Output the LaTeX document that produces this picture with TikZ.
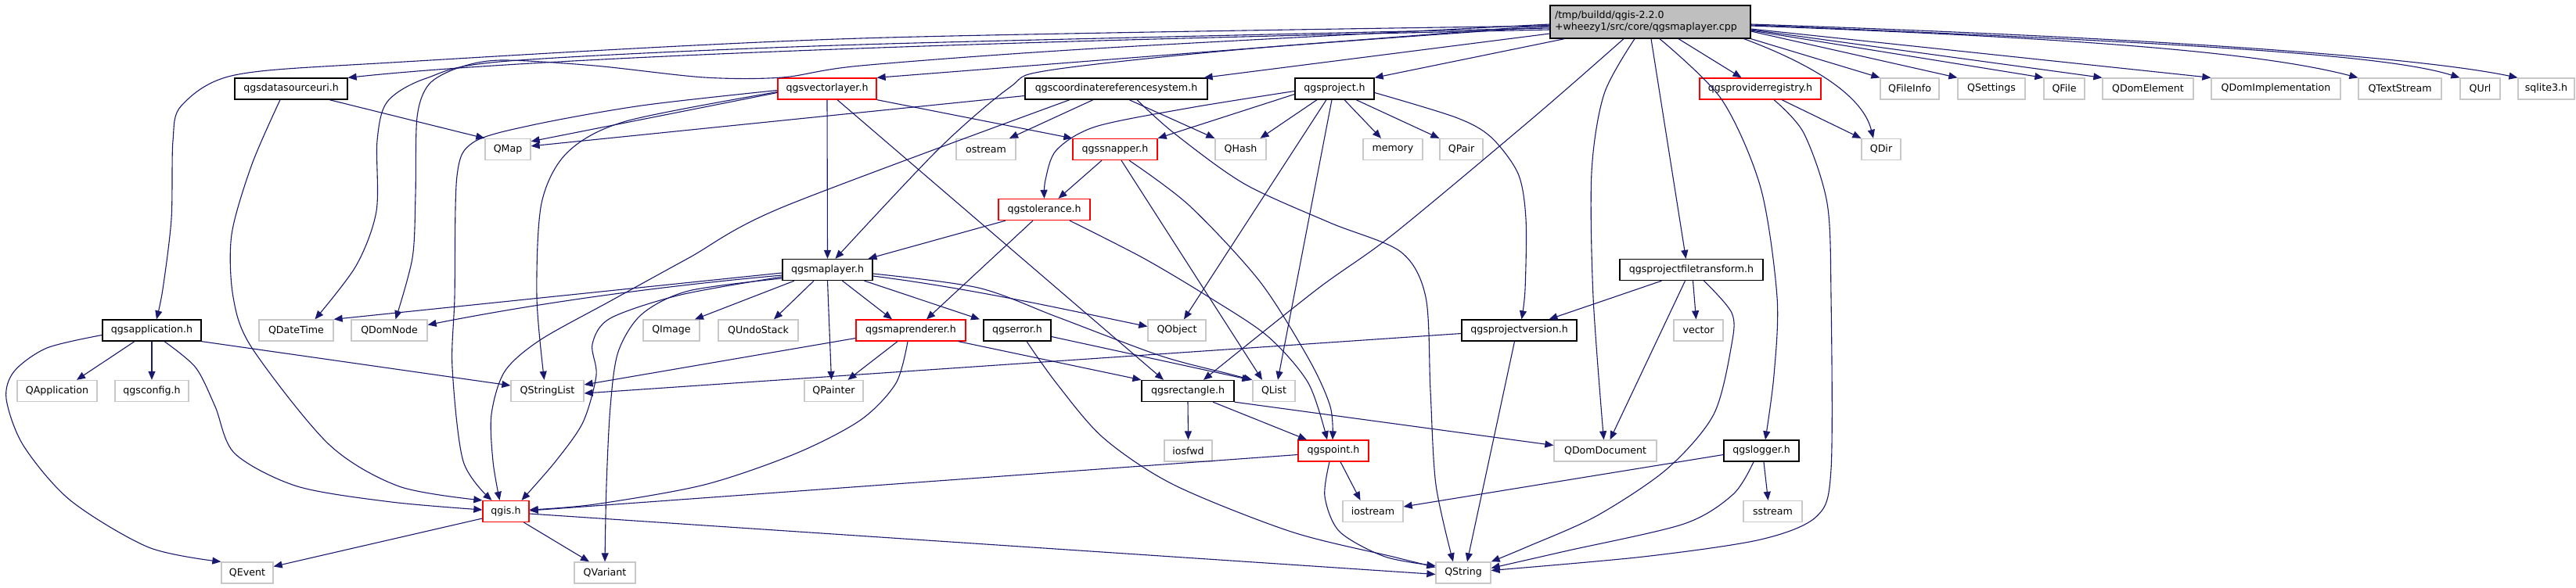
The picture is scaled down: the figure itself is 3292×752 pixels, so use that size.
\documentclass[tikz,border=0pt]{standalone}
\usepackage{fontspec}
\setmainfont{DejaVu Sans}
\usetikzlibrary{arrows.meta}
\definecolor{edgec}{HTML}{191970}
\definecolor{extgray}{HTML}{C8C8C8}
\definecolor{maingray}{HTML}{BFBFBF}
\definecolor{truncred}{HTML}{FF0000}
\newcommand\nodefont{\fontsize{12.6}{15}\selectfont}
\tikzset{
  nb/.style={draw, rectangle, minimum height=27, inner sep=0, font=\nodefont, fill=white, line width=1.3},
  doc/.style={nb, draw=black},
  trunc/.style={nb, draw=truncred},
  ext/.style={nb, draw=extgray},
  dep/.style={draw=edgec, line width=1.1, -{Triangle[length=11,width=9]}},
  sm/.style={smooth, tension=0.5}
}
\begin{document}
\begin{tikzpicture}[x=1pt, y=-1pt]
\fill[white] (0,0) rectangle (3292,752);
\useasboundingbox (0,0) rectangle (3292,752);
% ---------- nodes ----------
\node[doc, fill=maingray, minimum width=256, minimum height=42, align=left, text width=244] (m) at (2109,28) {/tmp/buildd/qgis-2.2.0\\+wheezy1/src/core/qgsmaplayer.cpp};
\node[doc, minimum width=144] (dsu) at (372,113.5) {qgsdatasourceuri.h};
\node[trunc, minimum width=126] (vl) at (1057,113.5) {qgsvectorlayer.h};
\node[doc, minimum width=233] (crs) at (1426.5,113.5) {qgscoordinatereferencesystem.h};
\node[doc, minimum width=101] (proj) at (1705.5,113.5) {qgsproject.h};
\node[trunc, minimum width=155] (preg) at (2249.5,113.5) {qgsproviderregistry.h};
\node[ext, minimum width=75] (qfi) at (2440.5,113.5) {QFileInfo};
\node[ext, minimum width=86] (qset) at (2545,113.5) {QSettings};
\node[ext, minimum width=52] (qfile) at (2638,113.5) {QFile};
\node[ext, minimum width=116] (qde) at (2745,113.5) {QDomElement};
\node[ext, minimum width=165] (qdi) at (2908.5,113.5) {QDomImplementation};
\node[ext, minimum width=106] (qts) at (3067,113.5) {QTextStream};
\node[ext, minimum width=51] (qurl) at (3169.5,113.5) {QUrl};
\node[ext, minimum width=72] (sql) at (3254,113.5) {sqlite3.h};
\node[ext, minimum width=58] (qmap) at (649,191) {QMap};
\node[ext, minimum width=76] (ostr) at (1260,191) {ostream};
\node[trunc, minimum width=108] (snap) at (1425,191) {qgssnapper.h};
\node[ext, minimum width=65] (qhash) at (1585.5,191) {QHash};
\node[ext, minimum width=76] (mem) at (1780,191) {memory};
\node[ext, minimum width=55] (qpair) at (1867.5,191) {QPair};
\node[ext, minimum width=50] (qdir) at (2404,191) {QDir};
\node[trunc, minimum width=117] (tol) at (1334.5,268) {qgstolerance.h};
\node[doc, minimum width=115] (ml) at (1057.5,345) {qgsmaplayer.h};
\node[doc, minimum width=183] (pft) at (2161.5,345) {qgsprojectfiletransform.h};
\node[doc, minimum width=126] (app) at (194,422.5) {qgsapplication.h};
\node[ext, minimum width=95] (qdt) at (378.5,422.5) {QDateTime};
\node[ext, minimum width=97] (qdn) at (497.5,422.5) {QDomNode};
\node[ext, minimum width=72] (qimg) at (858,422.5) {QImage};
\node[ext, minimum width=102] (qus) at (969,422.5) {QUndoStack};
\node[trunc, minimum width=140] (mr) at (1164,422.5) {qgsmaprenderer.h};
\node[doc, minimum width=86] (err) at (1300,422.5) {qgserror.h};
\node[ext, minimum width=74] (qobj) at (1504,422.5) {QObject};
\node[doc, minimum width=147] (pver) at (1941.5,422.5) {qgsprojectversion.h};
\node[ext, minimum width=63] (vec) at (2170.5,422.5) {vector};
\node[ext, minimum width=102] (qapp) at (73,500) {QApplication};
\node[ext, minimum width=94] (cfg) at (194,500) {qgsconfig.h};
\node[ext, minimum width=93] (qsl) at (699.5,500) {QStringList};
\node[ext, minimum width=75] (qpnt) at (1065.5,500) {QPainter};
\node[doc, minimum width=118] (rect) at (1518,500) {qgsrectangle.h};
\node[ext, minimum width=54] (qlist) at (1628,500) {QList};
\node[ext, minimum width=61] (iosfwd) at (1518.5,576.5) {iosfwd};
\node[trunc, minimum width=90] (pt) at (1704,576.5) {qgspoint.h};
\node[ext, minimum width=131] (qdd) at (2051.5,576.5) {QDomDocument};
\node[doc, minimum width=96] (log) at (2251,576.5) {qgslogger.h};
\node[trunc, minimum width=59] (qgis) at (646.5,654) {qgis.h};
\node[ext, minimum width=77] (iost) at (1754.5,654) {iostream};
\node[ext, minimum width=75] (sstr) at (2265.5,654) {sstream};
\node[ext, minimum width=66] (qev) at (316,732.5) {QEvent};
\node[ext, minimum width=78] (qvar) at (773,732.5) {QVariant};
\node[ext, minimum width=70] (qstr) at (1870,732.5) {QString};
% ---------- edges from main ----------
\draw[dep] ([yshift=-10]m.west) .. controls (1300,52) and (700,72) .. (dsu.north east);
\draw[dep] plot[sm] coordinates {([yshift=-5]m.west) (1100,49) (500,80) (300,96) (232,135) (221,180) (219,280) (208,370) ([xshift=6]app.north)};
\draw[dep] plot[sm] coordinates {([yshift=-8]m.west) (1100,57) (650,78) (545,100) (495,130) (482,180) (481,270) (455,340) ([xshift=24]qdt.north)};
\draw[dep] plot[sm] coordinates {([yshift=-3]m.west) (1400,62) (1100,84) (1000,99) (900,99) (760,84) (640,77) (585,87) (548,108) (533,150) (531,250) (527,330) ([xshift=8]qdn.north)};
\draw[dep] ([yshift=-4]m.west) -- (vl.north east);
\draw[dep] ([yshift=-15]m.west) -- ([xshift=-5]crs.north east);
\draw[dep] plot[sm] coordinates {([yshift=-6]m.west) (1600,62) (1340,90) (1290,112) (1200,190) ([xshift=10]ml.north)};
\draw[dep] ([xshift=19]m.south west) -- (proj.north east);
\draw[dep] plot[sm] coordinates {([xshift=-34]m.south) (1960,150) (1780,300) (1683,370) ([xshift=20]rect.north)};
\draw[dep] plot[sm] coordinates {([xshift=-20]m.south) (2050,120) (2034,220) (2036,380) ([xshift=-2]qdd.north)};
\draw[dep] ([xshift=1]m.south) -- ([xshift=-7]pft.north);
\draw[dep] plot[sm] coordinates {([xshift=12]m.south) (2200,127) (2250,240) (2271,380) (2267,480) ([xshift=5]log.north)};
\draw[dep] ([xshift=36]m.south) -- ([xshift=-24]preg.north);
\draw[dep] ([xshift=-9]m.south east) .. controls (2310,80) and (2380,120) .. ([xshift=-10]qdir.north);
\draw[dep] (m.south east) -- (qfi.north west);
\draw[dep] ([yshift=-12]m.east) -- (qset.north west);
\draw[dep] ([yshift=-11]m.east) -- (qfile.north west);
\draw[dep] ([yshift=-10]m.east) -- (qde.north west);
\draw[dep] ([yshift=-9]m.east) -- (qdi.north west);
\draw[dep] ([yshift=-5]m.east) .. controls (2700,50) and (2900,70) .. (qts.north west);
\draw[dep] ([yshift=-4]m.east) .. controls (2800,55) and (3050,70) .. (qurl.north west);
\draw[dep] ([yshift=-3]m.east) .. controls (2800,50) and (3100,75) .. (sql.north west);
% ---------- dsu ----------
\draw[dep] ([xshift=49]dsu.south) -- (qmap.north west);
\draw[dep] plot[sm] coordinates {([xshift=-14]dsu.south) (322,210) (296,300) (298,380) (322,445) (420,568) (510,622) (qgis.north west)};
% ---------- app ----------
\draw[dep] ([xshift=-22]app.south) -- ([xshift=25]qapp.north);
\draw[dep] (app.south) -- (cfg.north);
\draw[dep] (app.south east) -- ([yshift=7]qsl.west);
\draw[dep] plot[sm] coordinates {([xshift=16]app.south) (250,470) (275,520) (300,580) (380,622) (500,642) ([yshift=2]qgis.west)};
\draw[dep] plot[sm] coordinates {([yshift=-6]app.west) (60,445) (18,475) (8,510) (30,570) (90,640) (190,700) (qev.north west)};
% ---------- vectorlayer ----------
\draw[dep] ([yshift=-5]vl.west) -- ([yshift=-4]qmap.north east);
\draw[dep] plot[sm] coordinates {([yshift=-2]vl.west) (820,135) (680,160) (605,182) (584,225) (581,380) (578,470) (592,590) ([xshift=-18]qgis.north)};
\draw[dep] plot[sm] coordinates {([yshift=-4]vl.west) (800,155) (725,195) (692,260) (686,380) ([xshift=-4]qsl.north)};
\draw[dep] (vl.south) -- (ml.north);
\draw[dep] (vl.south east) -- (snap.north west);
\draw[dep] ([xshift=13]vl.south) -- ([xshift=-31]rect.north);
% ---------- crs ----------
\draw[dep] ([yshift=-9]crs.west) -- ([yshift=-10]qmap.north east);
\draw[dep] ([xshift=-29.5]crs.south) -- ([xshift=30]ostr.north);
\draw[dep] ([xshift=16.5]crs.south) -- (qhash.north west);
\draw[dep] plot[sm] coordinates {([xshift=-59.5]crs.south) (1000,265) (880,330) (780,385) (690,435) (645,475) (628,530) (630,590) ([xshift=-8]qgis.north)};
\draw[dep] plot[sm] coordinates {([xshift=26.5]crs.south) (1500,170) (1590,235) (1700,285) (1790,322) (1822,380) (1828,500) (1835,620) ([xshift=-13]qstr.north)};
% ---------- project ----------
\draw[dep] ([yshift=-7]proj.west) -- (snap.north east);
\draw[dep] plot[sm] coordinates {([yshift=-3]proj.west) (1520,138) (1400,162) (1350,192) (1336,230) (tol.north)};
\draw[dep] ([xshift=-22.5]proj.south) -- ([xshift=25]qhash.north);
\draw[dep] ([xshift=12.5]proj.south) -- ([xshift=-15]mem.north);
\draw[dep] ([xshift=27.5]proj.south) -- (qpair.north west);
\draw[dep] ([xshift=-10.5]proj.south) -- ([xshift=9]qobj.north);
\draw[dep] ([xshift=-3.5]proj.south) -- ([xshift=5]qlist.north);
\draw[dep] plot[sm] coordinates {([yshift=-5]proj.east) (1860,150) (1905,175) (1940,222) (1950,280) (1949,370) ([xshift=3]pver.north)};
% ---------- provider registry ----------
\draw[dep] ([xshift=27.5]preg.south) -- (qdir.north west);
\draw[dep] plot[sm] coordinates {([xshift=17.5]preg.south) (2305,170) (2335,260) (2340,380) (2340,600) (2322,660) (2250,690) (2100,712) ([yshift=3]qstr.east)};
% ---------- snapper ----------
\draw[dep] ([xshift=-17]snap.south) -- ([xshift=18]tol.north);
\draw[dep] ([xshift=8]snap.south) -- ([xshift=-15]qlist.north);
\draw[dep] plot[sm] coordinates {([xshift=18]snap.south) (1520,263) (1610,360) (1673,460) (1700,520) ([xshift=-1]pt.north)};
% ---------- tolerance ----------
\draw[dep] ([xshift=-49.5]tol.south) -- ([xshift=52]ml.north);
\draw[dep] ([xshift=-14.5]tol.south) -- ([xshift=20]mr.north);
\draw[dep] plot[sm] coordinates {([xshift=32.5]tol.south) (1461,330) (1545,380) (1620,430) (1672,490) ([xshift=-8]pt.north)};
% ---------- maplayer ----------
\draw[dep] ([yshift=-4]ml.west) -- (qdt.north east);
\draw[dep] ([yshift=-7]ml.west) .. controls (800,370) and (650,395) .. ([yshift=7]qdn.east);
\draw[dep] ([xshift=-42.5]ml.south) -- ([xshift=30]qimg.north);
\draw[dep] ([xshift=-17.5]ml.south) -- ([xshift=20]qus.north);
\draw[dep] ([xshift=19]ml.south) -- ([xshift=-24]mr.north);
\draw[dep] ([xshift=47]ml.south) -- ([xshift=-48]err.north);
\draw[dep] ([yshift=-8]ml.east) .. controls (1250,370) and (1380,400) .. ([yshift=5]qobj.west);
\draw[dep] (ml.south) -- ([xshift=-3]qpnt.north);
\draw[dep] plot[sm] coordinates {([yshift=-9]ml.west) (870,377) (780,407) (757,440) (762,480) (745,540) (710,590) ([xshift=20]qgis.north)};
\draw[dep] plot[sm] coordinates {([yshift=-11]ml.west) (880,372) (820,402) (790,450) (780,520) (775,620) (qvar.north)};
\draw[dep] plot[sm] coordinates {([yshift=-5]ml.east) (1250,368) (1350,405) (1483,455) (1570,478) (qlist.north west)};
% ---------- maprenderer ----------
\draw[dep] ([yshift=-10]mr.west) -- ([yshift=8]qsl.east);
\draw[dep] ([xshift=-17]mr.south) -- ([xshift=18]qpnt.north);
\draw[dep] plot[sm] coordinates {([xshift=-4]mr.south) (1145,490) (1100,537) (1017,580) (900,620) (760,645) ([yshift=2]qgis.east)};
\draw[dep] ([xshift=-10]mr.south east) -- (rect.north west);
% ---------- error ----------
\draw[dep] ([yshift=-8]err.east) -- ([xshift=-2]qlist.north west);
\draw[dep] plot[sm] coordinates {([xshift=12]err.south) (1350,490) (1410,560) (1500,620) (1650,680) (1780,712) ([yshift=7]qstr.west)};
% ---------- projectfiletransform ----------
\draw[dep] ([xshift=-38]pft.south) -- ([xshift=38]pver.north);
\draw[dep] ([xshift=-8]pft.south) -- ([xshift=6]qdd.north);
\draw[dep] ([xshift=2]pft.south) -- ([xshift=-3]vec.north);
\draw[dep] plot[sm] coordinates {([xshift=16]pft.south) (2213,400) (2213,440) (2190,530) (2130,600) (2040,660) (1950,700) (qstr.north east)};
% ---------- projectversion ----------
\draw[dep] ([yshift=-4]pver.west) -- ([yshift=-3]qsl.east);
\draw[dep] ([xshift=-6]pver.south) -- ([xshift=5]qstr.north);
% ---------- rectangle ----------
\draw[dep] (rect.south) -- (iosfwd.north);
\draw[dep] ([xshift=32]rect.south) -- ([xshift=-34]pt.north);
\draw[dep] (rect.south east) -- ([yshift=7]qdd.west);
% ---------- point ----------
\draw[dep] ([yshift=-5]pt.west) -- ([yshift=1]qgis.east);
\draw[dep] ([xshift=9]pt.south) -- ([xshift=-16]iost.north);
\draw[dep] plot[sm] coordinates {([xshift=-5]pt.south) (1693,635) (1712,680) (1770,712) ([yshift=9]qstr.west)};
% ---------- logger ----------
\draw[dep] ([yshift=-5]log.west) -- ([yshift=6]iost.east);
\draw[dep] ([xshift=3]log.south) -- ([xshift=-6]sstr.north);
\draw[dep] plot[sm] coordinates {([xshift=-10]log.south) (2215,632) (2152,670) (2000,705) ([yshift=6]qstr.east)};
% ---------- qgis ----------
\draw[dep] ([yshift=-9]qgis.west) -- ([yshift=8]qev.east);
\draw[dep] ([xshift=23]qgis.south) -- ([xshift=-20]qvar.north);
\draw[dep] ([yshift=-3]qgis.east) -- ([yshift=-2]qstr.west);
\end{tikzpicture}
\end{document}
